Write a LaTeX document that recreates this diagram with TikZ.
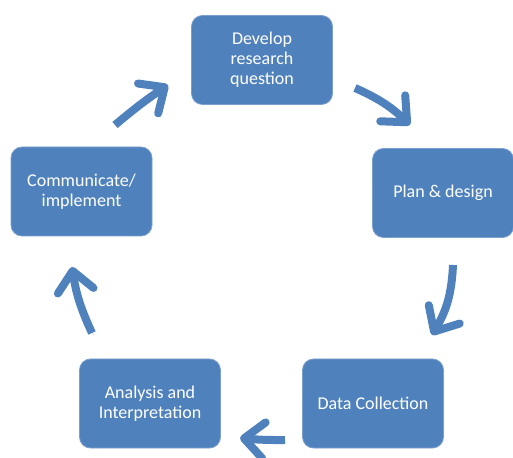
\documentclass[tikz,border=0pt]{standalone}
\usepackage{fontspec}
\setmainfont{Carlito}
\usetikzlibrary{arrows.meta}
\definecolor{cycleblue}{RGB}{79,129,189}

\begin{document}
\begin{tikzpicture}[x=1pt,y=1pt,
	stage/.style={rectangle, rounded corners=11pt, fill=cycleblue,
		draw=cycleblue!75!white, line width=0.8pt,
		minimum width=141pt, minimum height=89pt, inner sep=0pt,
		text=white, align=center, font=\fontsize{18}{20}\selectfont},
	flow/.style={draw=cycleblue, line width=8pt,
		-{Straight Barb[round, length=20pt, width=36pt]},
		preaction={draw=black!18, transform canvas={shift={(2pt,-2.5pt)}}}}]
		\useasboundingbox (0,0) rectangle (513,457);
%		\draw[help lines, step=20] (0,0) grid (513,457);
		\path (262,397) coordinate (dev_c);
		\path (443,264) coordinate (plan_c);
		\path (373,53.5) coordinate (data_c);
		\path (150,53.5) coordinate (anal_c);
		\path (81.5,265.5) coordinate (comm_c);
		\path (115,332) coordinate (comm_out);
		\path (168,372) coordinate (dev_in);
		\path (355,369) coordinate (dev_out);
		\path (410,332) coordinate (plan_in);
		\path (453,192) coordinate (plan_out);
		\path (432,122) coordinate (data_in);
		\path (285,17) coordinate (data_out);
		\path (240,19) coordinate (anal_in);
		\path (92,124) coordinate (anal_out);
		\path (72,190) coordinate (comm_in);

		\node[stage] (dev) at (dev_c) {Develop\\research\\question};
		\node[stage] (plan) at (plan_c) {Plan \& design};
		\node[stage] (data) at (data_c) {Data Collection};
		\node[stage] (anal) at (anal_c) {Analysis and\\Interpretation};
		\node[stage] (comm) at (comm_c) {Communicate/\\implement};

		\draw[flow] (comm_out) to[bend left=3] (dev_in);
		\draw[flow] (dev_out) to[bend left=10] (plan_in);
		\draw[flow] (plan_out) to[bend left=14] (data_in);
		\draw[flow] (data_out) to[bend left=3] (anal_in);
		\draw[flow] (anal_out) to[bend left=8] (comm_in);
	\end{tikzpicture}
\end{document}
